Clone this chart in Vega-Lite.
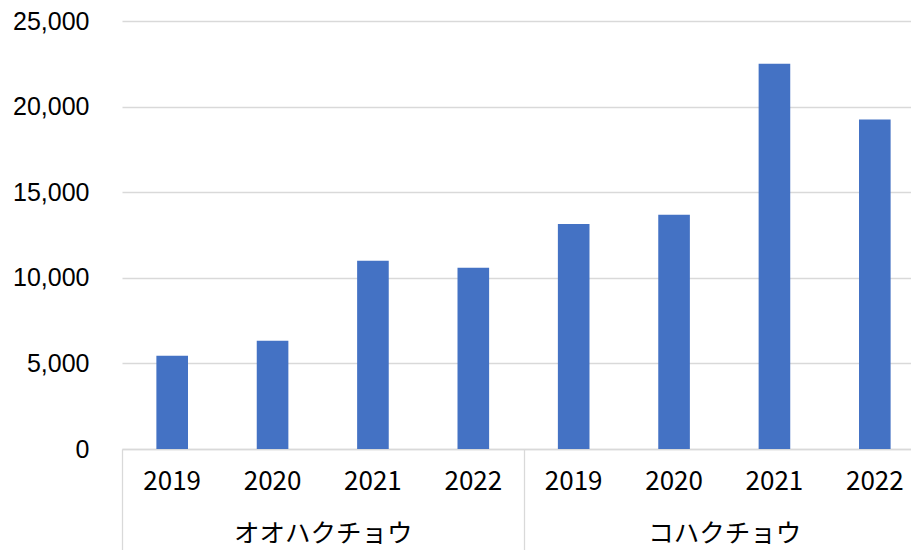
{
  "$schema": "https://vega.github.io/schema/vega-lite/v6.json",
  "autosize": {"type": "none"},
  "width": 789,
  "height": 428,
  "padding": {"left": 122, "top": 21, "right": 0, "bottom": 101},
  "background": "#ffffff",
  "config": {"view": {"stroke": null}},
  "data": {
    "values": [
      {"species": "オオハクチョウ", "year": "2019", "key": "オオハクチョウ-2019", "count": 5440},
      {"species": "オオハクチョウ", "year": "2020", "key": "オオハクチョウ-2020", "count": 6330},
      {"species": "オオハクチョウ", "year": "2021", "key": "オオハクチョウ-2021", "count": 10990},
      {"species": "オオハクチョウ", "year": "2022", "key": "オオハクチョウ-2022", "count": 10590},
      {"species": "コハクチョウ", "year": "2019", "key": "コハクチョウ-2019", "count": 13140},
      {"species": "コハクチョウ", "year": "2020", "key": "コハクチョウ-2020", "count": 13680},
      {"species": "コハクチョウ", "year": "2021", "key": "コハクチョウ-2021", "count": 22500},
      {"species": "コハクチョウ", "year": "2022", "key": "コハクチョウ-2022", "count": 19250}
    ]
  },
  "layer": [
    {
      "mark": {"type": "bar", "color": "#4472C4"},
      "encoding": {
        "x": {
          "field": "key",
          "type": "nominal",
          "sort": null,
          "scale": {"range": [0, 803], "paddingInner": 0.685, "paddingOuter": 0.3425},
          "axis": {
            "orient": "bottom",
            "title": null,
            "labelExpr": "slice(datum.label, -4)",
            "labelAngle": 0,
            "labelFont": "Noto Sans CJK JP",
            "labelFontSize": 26,
            "labelColor": "#000000",
            "labelBaseline": "middle",
            "labelPadding": 32,
            "ticks": false,
            "domain": true,
            "domainColor": "#d9d9d9",
            "domainWidth": 1.3,
            "grid": false
          }
        },
        "y": {
          "field": "count",
          "type": "quantitative",
          "scale": {"domain": [0, 25000], "nice": false},
          "axis": {
            "title": null,
            "values": [0, 5000, 10000, 15000, 20000, 25000],
            "format": ",.0f",
            "labelFont": "Liberation Sans",
            "labelFontSize": 25,
            "labelColor": "#000000",
            "labelPadding": 33,
            "ticks": false,
            "domain": false,
            "grid": true,
            "gridColor": "#d9d9d9",
            "gridWidth": 1.3
          }
        }
      }
    },
    {
      "mark": {"type": "rule", "opacity": 0},
      "encoding": {
        "x": {
          "field": "species",
          "type": "nominal",
          "sort": null,
          "scale": {"range": [0, 803], "paddingInner": 0, "paddingOuter": 0},
          "axis": {
            "orient": "bottom",
            "title": null,
            "labelAngle": 0,
            "labelFont": "Noto Sans CJK JP",
            "labelFontSize": 25.5,
            "labelColor": "#000000",
            "labelBaseline": "middle",
            "labelPadding": -17,
            "ticks": true,
            "tickBand": "extent",
            "tickSize": 101,
            "tickColor": "#d9d9d9",
            "tickWidth": 1.3,
            "domain": false,
            "grid": false
          }
        }
      }
    }
  ],
  "resolve": {"scale": {"x": "independent"}, "axis": {"x": "independent"}}
}
